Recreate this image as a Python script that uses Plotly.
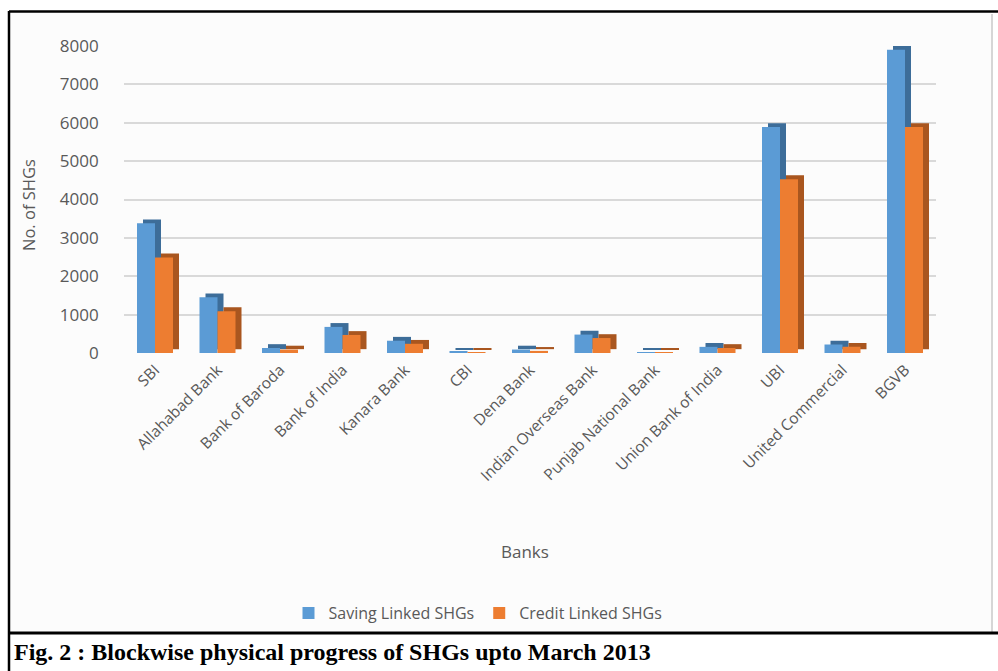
import plotly.graph_objects as go

# ---- data ----
banks = ["SBI", "Allahabad Bank", "Bank of Baroda", "Bank of India", "Kanara Bank",
         "CBI", "Dena Bank", "Indian Overseas Bank", "Punjab National Bank",
         "Union Bank of India", "UBI", "United Commercial", "BGVB"]
saving_linked = [3380, 1450, 130, 680, 320, 30, 90, 480, 10, 160, 5890, 220, 7900]
credit_linked = [2490, 1090, 90, 470, 240, 20, 55, 390, 5, 130, 4530, 160, 5890]
y_ticks = [0, 1000, 2000, 3000, 4000, 5000, 6000, 7000, 8000]

series_names = ["Saving Linked SHGs", "Credit Linked SHGs"]

# ---- styling ----
W, H = 998, 671
BLUE, BLUE_DARK = "#5b9bd5", "#3d6d99"
ORANGE, ORANGE_DARK = "#ed7d31", "#a9561f"
GREY_TXT = "#595959"
FONT = "Open Sans"

CAT_PX = 62.5            # pixel width of one category
BAR_W = 18 / CAT_PX      # front face width in category units
DX = 6 / CAT_PX          # depth offset (x) in category units
DY = 100                 # depth offset (y) in data units


def px(xp):
    return xp / W


def py(yp):
    return 1 - yp / H


fig = go.Figure()

fig.add_trace(go.Bar(x=banks, y=saving_linked, base=DY, offset=-BAR_W + DX, width=BAR_W,
                     marker=dict(color=BLUE_DARK, line=dict(width=0)),
                     showlegend=False, hoverinfo="skip"))
fig.add_trace(go.Bar(x=banks, y=saving_linked, offset=-BAR_W, width=BAR_W,
                     name=series_names[0], marker=dict(color=BLUE, line=dict(width=0))))
fig.add_trace(go.Bar(x=banks, y=credit_linked, base=DY, offset=DX, width=BAR_W,
                     marker=dict(color=ORANGE_DARK, line=dict(width=0)),
                     showlegend=False, hoverinfo="skip"))
fig.add_trace(go.Bar(x=banks, y=credit_linked, offset=0, width=BAR_W,
                     name=series_names[1], marker=dict(color=ORANGE, line=dict(width=0))))

x_left = 155 - CAT_PX / 2
x_right = 905 + CAT_PX / 2

fig.update_layout(
    width=W, height=H,
    margin=dict(l=0, r=0, t=0, b=0, autoexpand=False),
    paper_bgcolor="white",
    plot_bgcolor="rgba(0,0,0,0)",
    barmode="overlay",
    font=dict(family=FONT, color=GREY_TXT),
    xaxis=dict(domain=[px(x_left), px(x_right)], type="category", automargin=False,
               tickangle=-45, tickfont=dict(size=15.5, color=GREY_TXT),
               showline=False, showgrid=False, ticks="", ticklabelstandoff=4,
               anchor="y"),
    yaxis=dict(domain=[py(353), py(46)], range=[0, 8000], tickvals=y_ticks, automargin=False,
               tickfont=dict(size=17, color=GREY_TXT), showline=False,
               gridcolor="#d9d9d9", gridwidth=1.5, zeroline=False,
               ticklabelstandoff=24, anchor="x"),
    legend=dict(orientation="h", x=px(478), y=py(613), xanchor="center", yanchor="middle",
                font=dict(size=16, color=GREY_TXT), bgcolor="rgba(0,0,0,0)",
                itemwidth=30, tracegroupgap=0),
    shapes=[
        dict(type="rect", xref="paper", yref="paper", x0=px(11), x1=px(991), y0=py(631), y1=py(13),
             fillcolor="#fcfcfc", line=dict(width=0), layer="below"),
        dict(type="line", xref="paper", yref="paper", x0=px(992), x1=px(992), y0=py(632), y1=py(14),
             line=dict(color="#d6d6d6", width=2)),
        dict(type="line", xref="paper", yref="paper", x0=px(9), x1=1.01, y0=py(11.5), y1=py(11.5),
             line=dict(color="black", width=2.5)),
        dict(type="line", xref="paper", yref="paper", x0=px(9), x1=px(9), y0=py(11), y1=0,
             line=dict(color="black", width=2.5)),
        dict(type="line", xref="paper", yref="paper", x0=px(9), x1=1.01, y0=py(633), y1=py(633),
             line=dict(color="black", width=3)),
    ],
    annotations=[
        dict(text="No. of SHGs", xref="paper", yref="paper", x=px(28), y=py(205),
             textangle=-90, showarrow=False, font=dict(size=16.5, color=GREY_TXT),
             xanchor="center", yanchor="middle"),
        dict(text="Banks", xref="paper", yref="paper", x=px(525), y=py(551),
             showarrow=False, font=dict(size=17, color=GREY_TXT),
             xanchor="center", yanchor="middle"),
        dict(text="<b>Fig. 2 : Blockwise physical progress of SHGs upto March 2013</b>",
             xref="paper", yref="paper", x=px(12), y=py(652), showarrow=False,
             font=dict(family="Liberation Serif", size=24, color="black"),
             xanchor="left", yanchor="middle"),
    ],
)

fig.write_html("out.html")
